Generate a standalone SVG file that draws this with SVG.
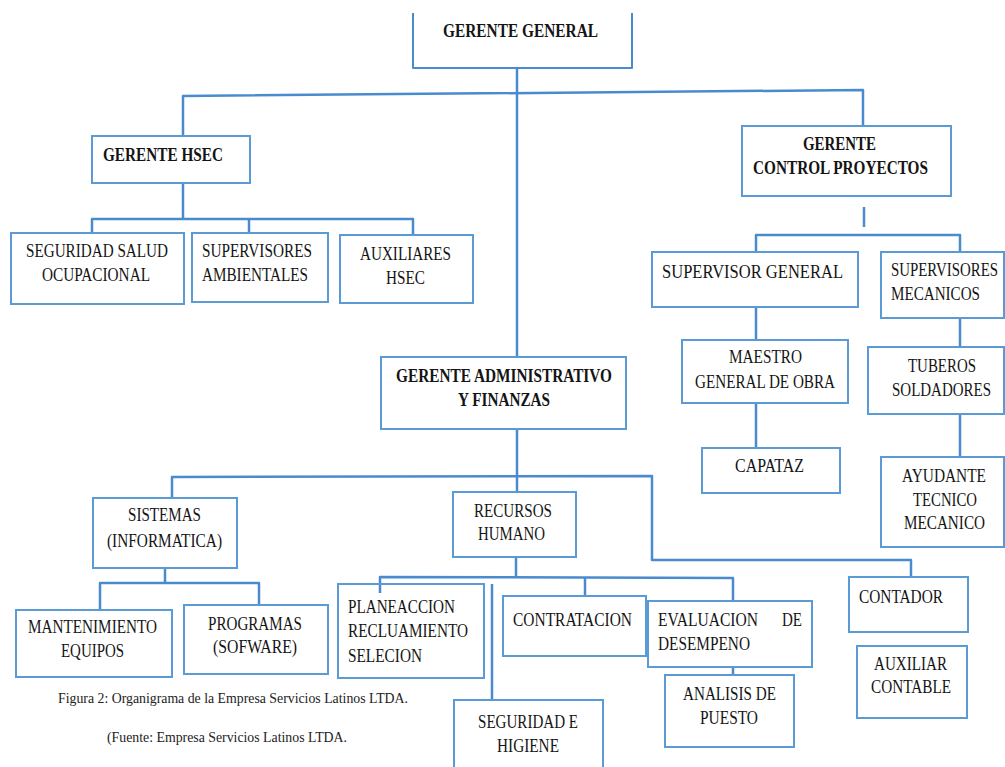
<svg xmlns="http://www.w3.org/2000/svg" width="1005" height="767" viewBox="0 0 1005 767">
<style>
.bg{fill:#ffffff}
.box{fill:#ffffff;stroke:#5b9bd5;stroke-width:2}
.ln{fill:none;stroke:#4a8bd0;stroke-width:2.5;stroke-linejoin:round}
.t{font-family:"Liberation Serif","Times New Roman",serif;font-size:19px;fill:#141414}
.b{font-weight:bold}
.cap{font-family:"Liberation Serif","Times New Roman",serif;font-size:14px;fill:#222222}
</style>
<rect class="bg" x="0" y="0" width="1005" height="767"/>
<g id="connectors">
<path class="ln" d="M517,68 V357"/>
<path class="ln" d="M183,135 V96 L863,90 V126"/>
<path class="ln" d="M183,183 V219"/>
<path class="ln" d="M92,233 V219 H413 V235"/>
<path class="ln" d="M249,219 V233"/>
<path class="ln" d="M864,207 V227"/>
<path class="ln" d="M756,252 V235 H960 V252"/>
<path class="ln" d="M756,305 V340"/>
<path class="ln" d="M756,403 V448"/>
<path class="ln" d="M960,318 V347"/>
<path class="ln" d="M960,414 V457"/>
<path class="ln" d="M517,429 V492"/>
<path class="ln" d="M172,498 V477 L652,476 V560 H911 V577"/>
<path class="ln" d="M165,568 V583"/>
<path class="ln" d="M100,610 V583 H259 V605"/>
<path class="ln" d="M516,557 V577"/>
<path class="ln" d="M380,593 V577 L733,578 V601"/>
<path class="ln" d="M585,578 V596"/>
<path class="ln" d="M492,584 V700"/>
<path class="ln" d="M733,667 V675"/>
</g>
<g id="gerente-general">
<path class="ln" d="M413,13 V68 H632 V13" style="stroke-width:2"/>
<text class="t b" x="443" y="37" textLength="155" lengthAdjust="spacingAndGlyphs">GERENTE  GENERAL</text>
</g>
<g id="gerente-hsec">
<rect class="box" x="92" y="136" width="158" height="47"/>
<text class="t b" x="103" y="161" textLength="120" lengthAdjust="spacingAndGlyphs">GERENTE HSEC</text>
</g>
<g id="seguridad-salud">
<rect class="box" x="11" y="233" width="173" height="71"/>
<text class="t" x="26" y="257" textLength="142" lengthAdjust="spacingAndGlyphs">SEGURIDAD SALUD</text>
<text class="t" x="42" y="281" textLength="108" lengthAdjust="spacingAndGlyphs">OCUPACIONAL</text>
</g>
<g id="supervisores-ambientales">
<rect class="box" x="192" y="233" width="136" height="69"/>
<text class="t" x="202" y="257" textLength="110" lengthAdjust="spacingAndGlyphs">SUPERVISORES</text>
<text class="t" x="202" y="281" textLength="106" lengthAdjust="spacingAndGlyphs">AMBIENTALES</text>
</g>
<g id="auxiliares-hsec">
<rect class="box" x="340" y="235" width="133" height="68"/>
<text class="t" x="360" y="260" textLength="91" lengthAdjust="spacingAndGlyphs">AUXILIARES</text>
<text class="t" x="386" y="284" textLength="39" lengthAdjust="spacingAndGlyphs">HSEC</text>
</g>
<g id="gerente-control">
<rect class="box" x="742" y="126" width="209" height="70"/>
<text class="t b" x="803" y="150" textLength="73" lengthAdjust="spacingAndGlyphs">GERENTE</text>
<text class="t b" x="753" y="174" textLength="175" lengthAdjust="spacingAndGlyphs">CONTROL PROYECTOS</text>
</g>
<g id="supervisor-general">
<rect class="box" x="652" y="252" width="206" height="55"/>
<text class="t" x="662" y="278" textLength="181" lengthAdjust="spacingAndGlyphs">SUPERVISOR GENERAL</text>
</g>
<g id="supervisores-mecanicos">
<rect class="box" x="881" y="252" width="123" height="66"/>
<text class="t" x="891" y="276" textLength="107" lengthAdjust="spacingAndGlyphs">SUPERVISORES</text>
<text class="t" x="891" y="300" textLength="89" lengthAdjust="spacingAndGlyphs">MECANICOS</text>
</g>
<g id="maestro">
<rect class="box" x="682" y="340" width="166" height="63"/>
<text class="t" x="729" y="363" textLength="73" lengthAdjust="spacingAndGlyphs">MAESTRO</text>
<text class="t" x="695" y="388" textLength="140" lengthAdjust="spacingAndGlyphs">GENERAL DE OBRA</text>
</g>
<g id="capataz">
<rect class="box" x="702" y="448" width="138" height="45"/>
<text class="t" x="735" y="472" textLength="69" lengthAdjust="spacingAndGlyphs">CAPATAZ</text>
</g>
<g id="tuberos">
<rect class="box" x="868" y="347" width="136" height="67"/>
<text class="t" x="908" y="372" textLength="68" lengthAdjust="spacingAndGlyphs">TUBEROS</text>
<text class="t" x="892" y="396" textLength="99" lengthAdjust="spacingAndGlyphs">SOLDADORES</text>
</g>
<g id="ayudante">
<rect class="box" x="881" y="457" width="123" height="90"/>
<text class="t" x="902" y="482" textLength="84" lengthAdjust="spacingAndGlyphs">AYUDANTE</text>
<text class="t" x="913" y="506" textLength="64" lengthAdjust="spacingAndGlyphs">TECNICO</text>
<text class="t" x="904" y="529" textLength="81" lengthAdjust="spacingAndGlyphs">MECANICO</text>
</g>
<g id="gerente-administrativo">
<rect class="box" x="381" y="357" width="245" height="72"/>
<text class="t b" x="396" y="382" textLength="216" lengthAdjust="spacingAndGlyphs">GERENTE ADMINISTRATIVO</text>
<text class="t b" x="458" y="406" textLength="92" lengthAdjust="spacingAndGlyphs">Y FINANZAS</text>
</g>
<g id="sistemas">
<rect class="box" x="93" y="498" width="144" height="70"/>
<text class="t" x="128" y="521" textLength="73" lengthAdjust="spacingAndGlyphs">SISTEMAS</text>
<text class="t" x="107" y="547" textLength="115" lengthAdjust="spacingAndGlyphs">(INFORMATICA)</text>
</g>
<g id="mantenimiento">
<rect class="box" x="16" y="610" width="156" height="67"/>
<text class="t" x="28" y="633" textLength="129" lengthAdjust="spacingAndGlyphs">MANTENIMIENTO</text>
<text class="t" x="61" y="657" textLength="63" lengthAdjust="spacingAndGlyphs">EQUIPOS</text>
</g>
<g id="programas">
<rect class="box" x="184" y="605" width="144" height="69"/>
<text class="t" x="208" y="630" textLength="94" lengthAdjust="spacingAndGlyphs">PROGRAMAS</text>
<text class="t" x="213" y="653" textLength="84" lengthAdjust="spacingAndGlyphs">(SOFWARE)</text>
</g>
<g id="recursos-humano">
<rect class="box" x="453" y="492" width="123" height="65"/>
<text class="t" x="474" y="517" textLength="78" lengthAdjust="spacingAndGlyphs">RECURSOS</text>
<text class="t" x="478" y="540" textLength="67" lengthAdjust="spacingAndGlyphs">HUMANO</text>
</g>
<g id="planeaccion">
<rect class="box" x="338" y="584" width="146" height="94" style="fill:none"/>
<text class="t" x="348" y="613" textLength="107" lengthAdjust="spacingAndGlyphs">PLANEACCION</text>
<text class="t" x="348" y="637" textLength="120" lengthAdjust="spacingAndGlyphs">RECLUAMIENTO</text>
<text class="t" x="348" y="662" textLength="74" lengthAdjust="spacingAndGlyphs">SELECION</text>
</g>
<g id="contratacion">
<rect class="box" x="503" y="596" width="143" height="60"/>
<text class="t" x="513" y="626" textLength="119" lengthAdjust="spacingAndGlyphs">CONTRATACION</text>
</g>
<g id="evaluacion">
<rect class="box" x="648" y="601" width="164" height="66"/>
<text class="t" x="658" y="626" textLength="100" lengthAdjust="spacingAndGlyphs">EVALUACION</text>
<text class="t" x="782" y="626" textLength="20" lengthAdjust="spacingAndGlyphs">DE</text>
<text class="t" x="658" y="650" textLength="92" lengthAdjust="spacingAndGlyphs">DESEMPENO</text>
</g>
<g id="analisis">
<rect class="box" x="665" y="675" width="129" height="72"/>
<text class="t" x="683" y="700" textLength="93" lengthAdjust="spacingAndGlyphs">ANALISIS DE</text>
<text class="t" x="700" y="724" textLength="58" lengthAdjust="spacingAndGlyphs">PUESTO</text>
</g>
<g id="seguridad-higiene">
<rect class="box" x="454" y="700" width="149" height="80"/>
<text class="t" x="478" y="728" textLength="100" lengthAdjust="spacingAndGlyphs">SEGURIDAD E</text>
<text class="t" x="497" y="752" textLength="62" lengthAdjust="spacingAndGlyphs">HIGIENE</text>
</g>
<g id="contador">
<rect class="box" x="849" y="577" width="119" height="55"/>
<text class="t" x="859" y="603" textLength="84" lengthAdjust="spacingAndGlyphs">CONTADOR</text>
</g>
<g id="auxiliar-contable">
<rect class="box" x="857" y="646" width="110" height="72"/>
<text class="t" x="874" y="670" textLength="73" lengthAdjust="spacingAndGlyphs">AUXILIAR</text>
<text class="t" x="871" y="693" textLength="80" lengthAdjust="spacingAndGlyphs">CONTABLE</text>
</g>
<g id="caption">
<text class="cap" x="58" y="703" textLength="350" lengthAdjust="spacingAndGlyphs">Figura 2: Organigrama de la Empresa Servicios Latinos LTDA.</text>
<text class="cap" x="107" y="742" textLength="240" lengthAdjust="spacingAndGlyphs">(Fuente: Empresa Servicios Latinos LTDA.</text>
</g>
</svg>
